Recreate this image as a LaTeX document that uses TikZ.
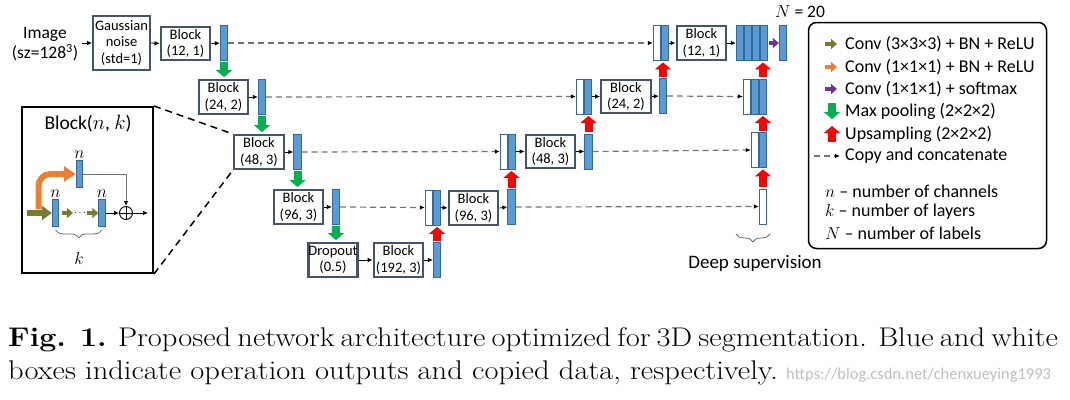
\documentclass[tikz,border=0pt]{standalone}
\usepackage{fontspec}
\newfontfamily\calibri{Carlito}
\usetikzlibrary{arrows.meta,decorations.pathreplacing}
\definecolor{barblue}{RGB}{91,155,213}
\definecolor{barline}{RGB}{52,104,152}
\definecolor{boxline}{RGB}{68,84,106}
\definecolor{poolgreen}{RGB}{0,176,80}
\definecolor{upred}{RGB}{255,0,0}
\definecolor{convolive}{RGB}{122,122,48}
\definecolor{convorange}{RGB}{237,125,49}
\definecolor{convpurple}{RGB}{112,48,160}
\begin{document}
\begin{tikzpicture}[x=1pt, y=-1pt,
    blk/.style={draw=boxline, line width=2.4pt, fill=white, minimum width=49.5pt,
      minimum height=33.5pt, inner sep=0pt, align=center,
      font=\calibri\fontsize{14.5}{16.5}\selectfont},
    bar/.style={draw=barline, fill=barblue, line width=0.8pt, minimum width=7.5pt,
      minimum height=35pt, inner sep=0pt},
    cpy/.style={bar, fill=white},
    ibar/.style={bar, minimum width=6.5pt, minimum height=27pt},
    mathlbl/.style={inner sep=1.5pt, font=\fontsize{19}{19}\selectfont},
    con/.style={line width=0.8pt, -{Latex[length=5pt,width=4.5pt]}},
    copyline/.style={black!55, line width=1.2pt, dash pattern=on 6pt off 4pt,
      -{Latex[length=5pt,width=4.5pt,color=black]}},
    pool/.style={poolgreen, line width=8pt, -{Triangle[length=7pt,width=16pt]}},
    upsam/.style={upred, line width=8pt, -{Triangle[length=7pt,width=16pt]}},
    smallarrow/.style={line width=4pt, -{Triangle[length=6pt,width=10pt]}},
    legtext/.style={anchor=west, inner sep=0pt, font=\calibri\fontsize{18}{20}\selectfont},
    sbrace/.style={decorate, decoration={brace, mirror, amplitude=8pt}, black!60, line width=0.8pt},
    captext/.style={anchor=base west, inner sep=0pt, font=\fontsize{27}{33}\selectfont}
  ]
  \useasboundingbox (0,0) rectangle (1070,399);

  % contracting path
  \node[align=center, font=\calibri\fontsize{17.5}{20}\selectfont] (img) at (45,44) {Image\\(sz=128\textsuperscript{3})};
  \node[blk, minimum width=56.5pt, minimum height=53.5pt] (noise) at (121.5,43) {Gaussian\\noise\\(std=1)};
  \node[blk] (e1) at (185.5,43.5) {Block\\(12, 1)};
  \node[bar] (eb1) at (224,43) {};
  \node[blk] (e2) at (223.5,97) {Block\\(24, 2)};
  \node[bar] (eb2) at (262,97) {};
  \node[blk] (e3) at (259,152) {Block\\(48, 3)};
  \node[bar] (eb3) at (297.5,152) {};
  \node[blk] (e4) at (298.5,207) {Block\\(96, 3)};
  \node[bar] (eb4) at (336,207) {};
  \node[blk, minimum width=46.5pt] (drop) at (333,260) {Dropout\\(0.5)};
  \node[blk] (e5) at (398.5,260) {Block\\(192, 3)};
  \node[bar] (eb5) at (437,260) {};

  % expanding path
  \node[cpy] (c4w) at (429,207.5) {};
  \node[bar] (c4b) at (437,207.5) {};
  \node[blk] (d4) at (473.5,208) {Block\\(96, 3)};
  \node[bar] (db4) at (511.5,207) {};
  \node[cpy] (c3w) at (504,151.5) {};
  \node[bar] (c3b) at (512,151.5) {};
  \node[blk] (d3) at (550.5,151.5) {Block\\(48, 3)};
  \node[bar] (db3) at (588.5,151.5) {};
  \node[cpy] (c2w) at (580,96.5) {};
  \node[bar] (c2b) at (588,96.5) {};
  \node[blk] (d2) at (626,96.5) {Block\\(24, 2)};
  \node[bar] (db2) at (663,96) {};
  \node[cpy] (c1w) at (657,43) {};
  \node[bar] (c1b) at (665,43) {};
  \node[blk] (d1) at (701.5,43) {Block\\(12, 1)};
  \foreach \i in {1,...,4}
    \node[bar] (s\i) at (732+8*\i,43) {};
  \node[bar] (out) at (783,43) {};
  \node[anchor=west, inner sep=0pt, font=\calibri\fontsize{17.5}{20}\selectfont] (nlab) at (775,12) {$N$ = 20};

  % deep supervision
  \node[cpy] (ds2w) at (747,96.5) {};
  \node[bar] (ds2a) at (755,96.5) {};
  \node[bar] (ds2b) at (763,96.5) {};
  \node[cpy] (ds3w) at (755,150) {};
  \node[bar] (ds3b) at (763,150) {};
  \node[cpy] (ds4w) at (763,206.5) {};
  \draw[sbrace] (736,234) -- (770,234);
  \node[font=\calibri\fontsize{19}{22}\selectfont] (dslab) at (755,263) {Deep supervision};

  % connectors
  \draw[con] (img.east |- noise.west) -- (noise.west);
  \foreach \a/\b in {noise/e1, e1/eb1, e2/eb2, e3/eb3, e4/eb4, drop/e5, e5/eb5,
                     c4b/d4, d4/db4, c3b/d3, d3/db3, c2b/d2, d2/db2, c1b/d1, d1/s1}
    \draw[con] (\a.east) -- (\b.west);
  \foreach \a/\b in {eb1/c1w, eb2/c2w, eb3/c3w, eb4/c4w, db2/ds2w, db3/ds3w, db4/ds4w}
    \draw[copyline] (\a.east) -- (\b.west);
  \foreach \a/\b in {eb1/e2, eb2/e3, eb3/e4, eb4/drop}
    \draw[pool] ([yshift=-1pt]\a.south) -- ([yshift=2pt]\a.south |- \b.north);
  \foreach \a/\b in {eb5/c4b, db4/c3b, db3/c2b, db2/c1b, ds4w/ds3b, ds3b/ds2b, ds2b/s4}
    \draw[upsam] ([yshift=1.5pt]\a.north) -- ([yshift=-1.5pt]\a.north |- \b.south);
  \draw[smallarrow, convpurple] ([xshift=0.5pt]s4.east) -- (out.west);

  % block(n,k) inset
  \node[draw, line width=2pt, minimum width=131pt, minimum height=166pt, inner sep=0pt] (inset) at (87.5,190) {};
  \node[font=\calibri\fontsize{19.5}{20}\selectfont] (ititle) at (88,124) {Block($n$, $k$)};
  \node[ibar, label={[mathlbl]above:$n$}] (ibt) at (79.5,174) {};
  \node[ibar, label={[mathlbl]above:$n$}] (ib1) at (55.5,213) {};
  \node[ibar, label={[mathlbl]above:$n$}] (ib2) at (102,213) {};
  \node[inner sep=0pt, font=\fontsize{10}{10}\selectfont] (idots) at (80,213) {$\cdots$};
  \node[circle, draw, line width=0.9pt, minimum size=13pt, inner sep=0pt,
    path picture={\draw[line width=0.9pt] (path picture bounding box.north) -- (path picture bounding box.south)
      (path picture bounding box.west) -- (path picture bounding box.east);}] (oplus) at (126,213) {};
  \coordinate (iin) at (27,213);
  \coordinate (ibase) at (38.5,209);
  \coordinate (iout) at (148,213);
  \draw[convolive, line width=5.5pt, -{Triangle[length=10pt,width=14pt]}] (iin) -- (ib1.west);
  \draw[smallarrow, convolive] ([xshift=3pt]ib1.east) -- ([xshift=-1pt]idots.west);
  \draw[smallarrow, convolive] ([xshift=1pt]idots.east) -- (ib2.west);
  \draw[convorange, line width=6pt, rounded corners=12pt, -{Triangle[length=12pt,width=15pt]}] (ibase) |- (ibt.west);
  \draw[black!55, line width=0.9pt, -{Latex[length=5pt,width=4.5pt,color=black]}] (ibt.east) -| (oplus.north);
  \draw[con] (ib2.east) -- (oplus.west);
  \draw[con] (oplus.east) -- (iout);
  \draw[sbrace] ([yshift=-3pt]ib1.south) -- ([yshift=-3pt]ib2.south);
  \node[mathlbl, font=\fontsize{18}{18}\selectfont] (klab) at (79,258) {$k$};
  \draw[line width=1.5pt, dash pattern=on 7pt off 5pt] (inset.north east) -- (e3.north west);
  \draw[line width=1.5pt, dash pattern=on 7pt off 5pt] (inset.south east) -- (e3.south west);

  % legend
  \node[draw, line width=1.5pt, rounded corners=8pt, minimum width=238pt, minimum height=226pt, inner sep=0pt] (legend) at (927.5,135.5) {};
  \foreach \y/\txt [count=\i] in {44/{Conv (3×3×3) + BN + ReLU}, 67/{Conv (1×1×1) + BN + ReLU},
      89/{Conv (1×1×1) + softmax}, 111/{Max pooling (2×2×2)}, 134/{Upsampling (2×2×2)},
      156/{Copy and concatenate}}
    \node[legtext] (leg\i) at (845,\y) {\txt};
  \draw[smallarrow, convolive] ([xshift=-20pt]leg1.west) -- ([xshift=-8pt]leg1.west);
  \draw[smallarrow, convorange] ([xshift=-20pt]leg2.west) -- ([xshift=-8pt]leg2.west);
  \draw[smallarrow, convpurple] ([xshift=-20pt]leg3.west) -- ([xshift=-8pt]leg3.west);
  \draw[pool] ([xshift=-13pt,yshift=8pt]leg4.west) -- ([xshift=-13pt,yshift=-8pt]leg4.west);
  \draw[upsam] ([xshift=-13pt,yshift=-8pt]leg5.west) -- ([xshift=-13pt,yshift=8pt]leg5.west);
  \draw[copyline] ([xshift=-31pt]leg6.west) -- ([xshift=-5pt]leg6.west);
  \foreach \y/\sym/\txt [count=\i] in {191/n/channels, 212/k/layers, 233/N/labels}
    \node[legtext] (def\i) at (825,\y) {$\sym$ – number of \txt};

  % caption
  \node[captext] (cap1) at (8,346)
    {\scalebox{1.13}[1]{\makebox[928pt][s]{\textbf{Fig. 1.} Proposed network architecture optimized for 3D segmentation. Blue and white}}};
  \node[captext] (cap2) at (8,379)
    {\scalebox{1.13}[1]{boxes indicate operation outputs and copied data, respectively.}};
  \node[anchor=base west, inner sep=0pt, text=black!25, font=\calibri\fontsize{16.5}{16.5}\selectfont] (mark) at (786,379)
    {https://blog.csdn.net/chenxueying1993};
\end{tikzpicture}
\end{document}
